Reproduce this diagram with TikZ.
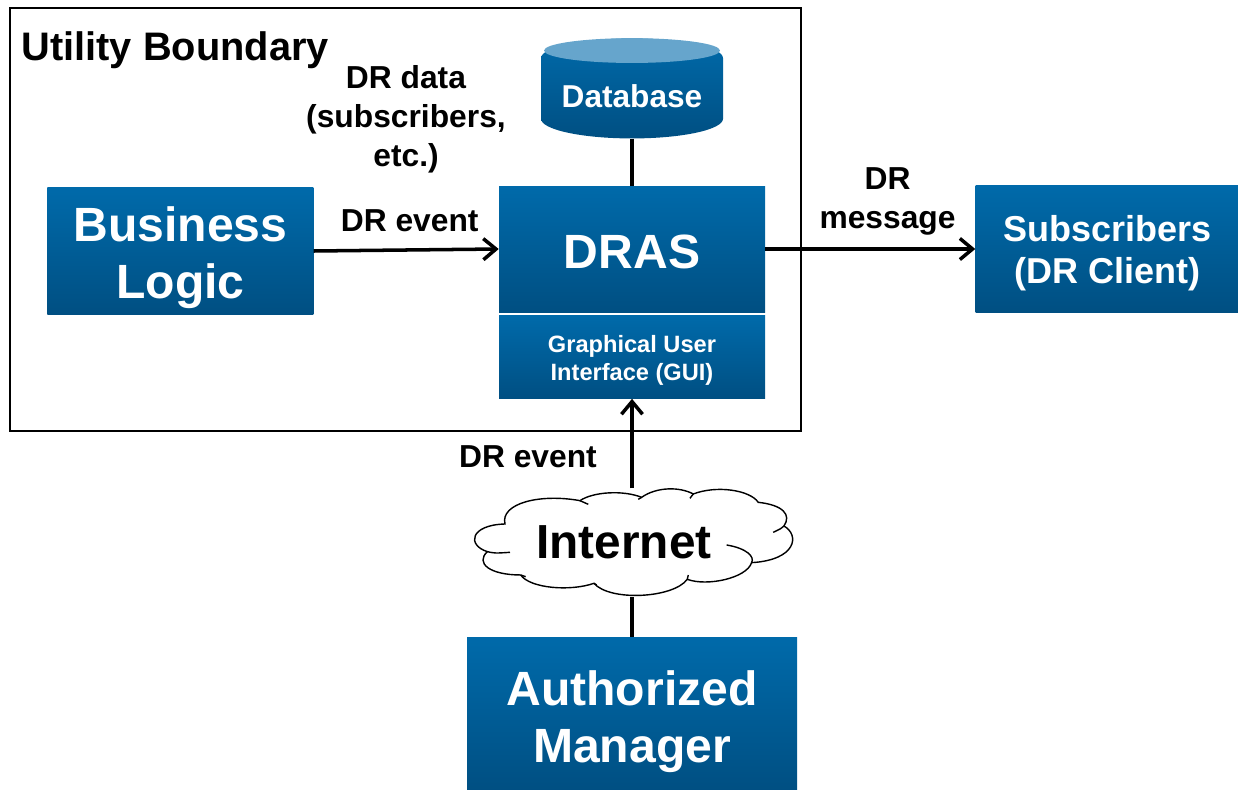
\documentclass[tikz,border=0pt]{standalone}
\usepackage{fontspec}
\setmainfont{Liberation Sans}
\usepackage{xcolor}
\usepackage{tikz}
\usetikzlibrary{shapes.geometric,arrows.meta,positioning,calc}
\definecolor{boxtop}{HTML}{006AAA}
\definecolor{boxbottom}{HTML}{004F82}
\definecolor{capfill}{HTML}{66A5CC}
\newcommand{\lift}[1]{\rule{0pt}{#1}}
\tikzset{
    bluebox/.style={inner sep=0pt, align=center, text=white, top color=boxtop, middle color=boxtop, bottom color=boxbottom},
    bigtext/.style={font=\bfseries\fontsize{34.2}{40.5}\selectfont},
    midtext/.style={font=\bfseries\fontsize{25.6}{29.9}\selectfont},
    smalltext/.style={font=\bfseries\fontsize{16.8}{20}\selectfont},
    flowlabel/.style={align=center, inner sep=0pt, font=\bfseries\fontsize{22.6}{27.7}\selectfont},
    link/.style={line width=2.5pt},
    flow/.style={link, -{Straight Barb[length=9pt,width=15pt]}}
}

\begin{document}
\begin{tikzpicture}
    \useasboundingbox (0,0) rectangle (30.95,-19.75);
    \node[draw, line width=1pt, minimum width=19.775cm, minimum height=10.575cm, inner sep=0pt] (boundary) at (10.1375,-5.4875) {};
    \node[below right=0.6cm and 0.3cm of boundary.north west, inner sep=0pt, font=\bfseries\fontsize{28.3}{34}\selectfont] (utility) {Utility Boundary};

    \node[bluebox, bigtext, minimum width=6.65cm, minimum height=3.15cm] (dras) at (15.8,-6.225) {\lift{27.5pt}DRAS};
    \node[bluebox, smalltext, below=0.075cm of dras, minimum width=6.65cm, minimum height=2.075cm] (gui) {\lift{16.5pt}Graphical User\\Interface (GUI)};
    \node[bluebox, bigtext, left=4.625cm of dras, yshift=-0.05cm, minimum width=6.65cm, minimum height=3.175cm] (business) {\lift{34.7pt}Business\\Logic};
    \node[bluebox, midtext, right=5.25cm of dras, minimum width=6.575cm, minimum height=3.175cm] (subscribers) {\lift{24.3pt}Subscribers\\(DR Client)};
    \node[bluebox, bigtext, below=5.95cm of gui, minimum width=8.25cm, minimum height=3.85cm] (authorized) {\lift{36.1pt}Authorized\\Manager};
    \node[bluebox, cylinder, shape border rotate=90, aspect=0.28, font=\bfseries\fontsize{22.5}{27}\selectfont, above=1.175cm of dras, minimum width=4.55cm, minimum height=2.5cm] (database) {Database\rule[-2.8pt]{0pt}{0pt}};
    \fill[capfill] ([yshift=-0.31cm]database.north) ellipse (2.2cm and 0.31cm);

    % cloud outline, traced
    \begin{scope}[shift={(11.5,-11.75)}, x=0.00833cm, y=-0.00833cm, line width=1pt]
        \draw[fill=white] (135,162) .. controls (120,100) and (240,70) .. (360,92)
            .. controls (400,65) and (490,60) .. (545,82)
            .. controls (590,50) and (660,50) .. (700,72)
            .. controls (770,45) and (870,60) .. (895,97)
            .. controls (970,105) and (995,135) .. (972,168)
            .. controls (1020,195) and (1010,270) .. (875,278)
            .. controls (860,325) and (740,350) .. (682,328)
            .. controls (640,385) and (450,395) .. (402,340)
            .. controls (330,365) and (210,355) .. (182,315)
            .. controls (90,315) and (45,280) .. (82,245)
            .. controls (20,225) and (30,165) .. (135,162) -- cycle;
        \draw (360,92) -- (385,103);
        \draw (545,82) -- (535,88);
        \draw (700,72) -- (690,85);
        \draw (972,168) .. controls (965,175) .. (940,187);
        \draw (800,225) .. controls (860,235) and (885,260) .. (875,278);
        \draw (682,328) -- (685,315);
        \draw (402,340) -- (410,345);
        \draw (182,315) -- (197,320);
        \draw (82,245) .. controls (105,250) .. (150,247);
    \end{scope}
    \node[above=1cm of authorized, xshift=-0.2cm, inner sep=0pt, minimum height=2.7cm, font=\bfseries\fontsize{34}{40}\selectfont] (internet) {Internet};

    \node[flowlabel] (datalabel) at (10.15,-2.975) {DR data\\(subscribers,\\etc.)};
    \node[flowlabel, above=0.475cm of business.east, anchor=south, xshift=2.4cm] (eventlabel) {DR event};
    \node[flowlabel, right=1.35cm of dras.east, yshift=1.18cm] (messagelabel) {DR\\message};
    \node[flowlabel, below=1.175cm of gui.south, xshift=-2.6cm] (webevent) {DR event};

    \draw[link] (database.south) -- (dras.north);
    \draw[flow] (business.east) -- (dras.west);
    \draw[flow] (dras.east) -- (subscribers.west);
    \draw[flow] (gui.south |- internet.north) -- (gui.south);
    \draw[link] (authorized.north) -- (authorized.north |- internet.south);
\end{tikzpicture}
\end{document}
